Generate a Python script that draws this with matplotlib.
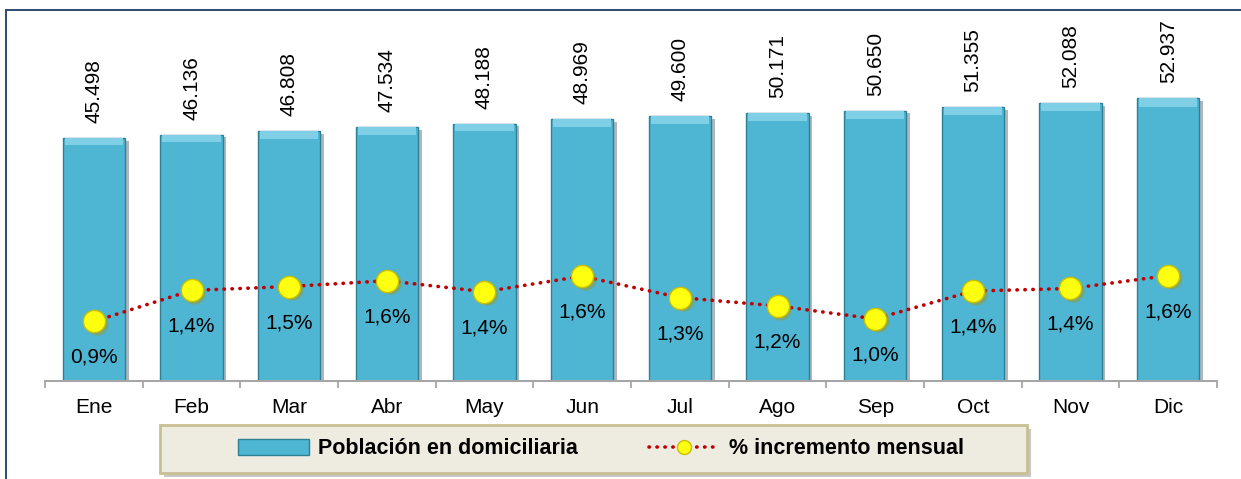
import matplotlib
matplotlib.use("Agg")
import matplotlib.pyplot as plt
import numpy as np
from matplotlib.lines import Line2D
from matplotlib.patches import FancyBboxPatch, Rectangle
from matplotlib import patheffects as pe

meses = ["Ene", "Feb", "Mar", "Abr", "May", "Jun", "Jul", "Ago", "Sep", "Oct", "Nov", "Dic"]
poblacion = [45498, 46136, 46808, 47534, 48188, 48969, 49600, 50171, 50650, 51355, 52088, 52937]
incremento = [0.92, 1.40, 1.46, 1.55, 1.38, 1.62, 1.29, 1.16, 0.96, 1.39, 1.43, 1.63]

plt.rcParams["font.family"] = ["Liberation Sans", "DejaVu Sans"]
FS = 15

W, H = 1241, 479
fig = plt.figure(figsize=(W / 100, H / 100), dpi=100)

# outer frame (only top and left edges are visible in the crop)
fig.patches.append(Rectangle((6 / W, -0.2), 1.3, (H - 10) / H + 0.2, transform=fig.transFigure,
                             fill=False, edgecolor="#1F3B64", lw=1.3))

ax = fig.add_axes([45 / W, (H - 381) / H, 1172 / W, 361 / H])
x = np.arange(len(meses))
shadow = [pe.SimplePatchShadow(offset=(2.5, -2), alpha=0.35), pe.Normal()]
bars = ax.bar(x, poblacion, 0.64, color="#4EB5D2", edgecolor="#2F7F95", lw=1.0, zorder=2)
for b in bars:
    b.set_path_effects(shadow)
# light top bevel
ax.bar(x, [p * 0.03 for p in poblacion], 0.6, bottom=[p * 0.97 for p in poblacion],
       color="#7FD0E6", lw=0, zorder=3)
ax.set_ylim(0, 67600)
ax.set_xlim(-0.5, len(meses) - 0.5)

for xi, v in zip(x, poblacion):
    ax.annotate(f"{v/1000:.3f}", (xi, v), xytext=(0, 15), textcoords="offset pixels",
                rotation=90, ha="center", va="bottom", fontsize=FS)

for s in ["top", "left", "right"]:
    ax.spines[s].set_visible(False)
ax.spines["bottom"].set_color("#A6A6A6")
ax.spines["bottom"].set_linewidth(1.5)
ax.set_yticks([])
ax.set_xticks(np.arange(-0.5, len(meses)), labels=[""] * (len(meses) + 1))
ax.tick_params(axis="x", which="major", length=5, width=1.3, color="#A6A6A6")
ax.set_xticks(x, labels=meses, minor=True)
ax.tick_params(axis="x", which="minor", length=0, pad=12.5, labelsize=FS)

ax2 = ax.twinx()
ax2.set_ylim(0, 361 / 64.7)
ax2.set_axis_off()
ax2.plot(x, incremento, color="#C00000", lw=2.6, ls=(0, (0.1, 2.1)), dash_capstyle="round", zorder=3)
ax2.plot(x + 0.03, [v - 0.04 for v in incremento], "o", ms=16, mfc="#9A9A30", mec="none", alpha=0.5, zorder=4)
ax2.plot(x, incremento, "o", ms=16, mfc="#FFFF10", mec="#C8C000", mew=1.0, zorder=5)
for xi, v in zip(x, incremento):
    ax2.annotate(f"{v:.1f}%".replace(".", ","), (xi, v), xytext=(0, -36), textcoords="offset pixels",
                 ha="center", va="center", fontsize=FS, zorder=6)

# legend box
box = FancyBboxPatch((160 / W, (H - 473) / H), 867 / W, 48 / H, boxstyle="square,pad=0",
                     transform=fig.transFigure, facecolor="#EEEBE1", edgecolor="#C9BF94", lw=2)
box.set_path_effects([pe.SimplePatchShadow(offset=(3, -3), alpha=0.3), pe.Normal()])
fig.patches.append(box)

h_bar = Rectangle((0, 0), 1, 1, facecolor="#4EB5D2", edgecolor="#2F7F95", lw=1.0)
h_line = Line2D([], [], color="#C00000", lw=2.6, ls=(0, (0.1, 2.1)), dash_capstyle="round",
                marker="o", ms=10, mfc="#FFFF10", mec="#C8C000")
fig.legend([h_bar, h_line], ["Población en domiciliaria", "% incremento mensual"],
           loc="center", bbox_to_anchor=(601 / W, (H - 449) / H), ncol=2, frameon=False,
           prop={"weight": "bold", "size": 15.5}, handlelength=3.3, handleheight=0.75,
           handletextpad=0.4, columnspacing=3.3)

fig.savefig("out.png", dpi=100)
